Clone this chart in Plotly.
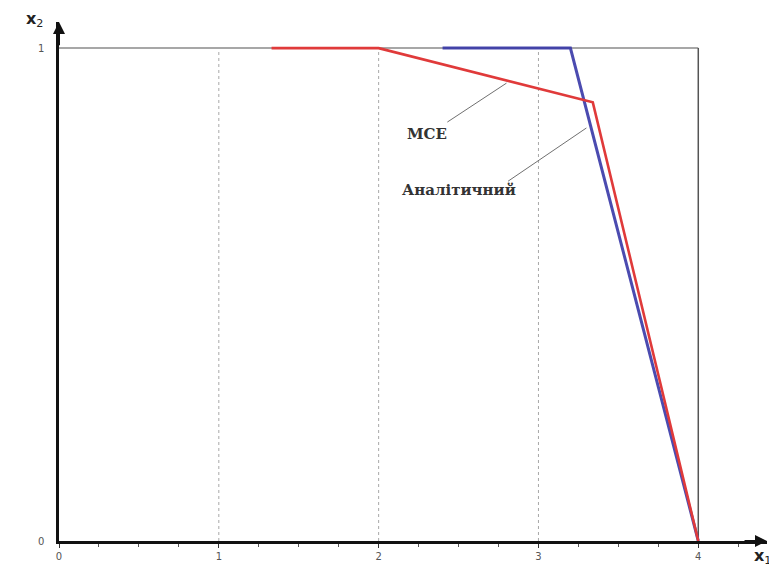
import plotly.graph_objects as go

# Data
red_x = [1.33, 2.0, 3.34, 4.0]
red_y = [1.0, 1.0, 0.89, 0.0]
blue_x = [2.4, 3.2, 4.0]
blue_y = [1.0, 1.0, 0.0]
x_ticks = [0, 1, 2, 3, 4]
x_tick_labels = ["0", "1", "2", "3", "4"]
y_ticks = [0, 1]
y_tick_labels = ["0", "1"]
grid_x = [1, 2, 3]
label_mce = "MCE"
label_an = "Аналітичний"

X_MAX = 4.43
Y_MAX = 1.053

fig = go.Figure()

# frame: top and right border of the unit area
fig.add_shape(type="line", x0=0, y0=1, x1=4, y1=1, line=dict(color="#8a8a8a", width=1.5), layer="below")
fig.add_shape(type="line", x0=4, y0=0, x1=4, y1=1, line=dict(color="#555555", width=1.5), layer="below")
for gx in grid_x:
    fig.add_shape(type="line", x0=gx, y0=0, x1=gx, y1=1,
                  line=dict(color="#a8a8a8", width=1, dash="dot"), layer="below")

fig.add_trace(go.Scatter(x=blue_x, y=blue_y, mode="lines",
                         line=dict(color="#3838a8", width=3), opacity=0.9, showlegend=False))
fig.add_trace(go.Scatter(x=red_x, y=red_y, mode="lines",
                         line=dict(color="#e03a3a", width=2.6), showlegend=False))

# leader lines
fig.add_shape(type="line", x0=2.43, y0=0.850, x1=2.80, y1=0.929, line=dict(color="#707070", width=1))
fig.add_shape(type="line", x0=2.81, y0=0.730, x1=3.30, y1=0.838, line=dict(color="#707070", width=1))

tfont = dict(family="DejaVu Serif", size=15, color="#333333", weight="bold")
fig.add_annotation(x=2.30, y=0.826, text=label_mce, showarrow=False, font=tfont)
fig.add_annotation(x=2.50, y=0.712, text=label_an, showarrow=False, font=tfont)

# axis arrows
fig.add_annotation(x=X_MAX, y=0, ax=X_MAX - 0.15, ay=0, axref="x", ayref="y", xref="x", yref="y",
                   text="", showarrow=True, arrowhead=2, arrowsize=1.2, arrowwidth=2, arrowcolor="#111111")
fig.add_annotation(x=0, y=Y_MAX, ax=0, ay=Y_MAX - 0.05, axref="x", ayref="y", xref="x", yref="y",
                   text="", showarrow=True, arrowhead=2, arrowsize=1.2, arrowwidth=2, arrowcolor="#111111")

# axis names
afont = dict(family="DejaVu Sans", size=16, color="#222222")
fig.add_annotation(xref="paper", yref="paper", x=-0.034, y=1.004, xanchor="center", yanchor="middle",
                   text="<b>x</b><sub>2</sub>", showarrow=False, font=afont)
fig.add_annotation(xref="paper", yref="paper", x=0.994, y=-0.03, xanchor="center", yanchor="middle",
                   text="<b>x</b><sub>1</sub>", showarrow=False, font=afont)

fig.update_layout(
    width=769, height=564,
    margin=dict(l=51, r=10, t=14, b=31),
    paper_bgcolor="white", plot_bgcolor="white",
    xaxis=dict(range=[0, X_MAX], showgrid=False, zeroline=False,
               showline=True, linecolor="#111111", linewidth=2.5,
               tickvals=x_ticks, ticktext=x_tick_labels, ticks="outside", ticklen=4,
               tickcolor="#333333", tickfont=dict(family="DejaVu Sans", size=10, color="#555555"),
               minor=dict(dtick=0.25, ticks="outside", ticklen=3, tickcolor="#555555"),
               fixedrange=True),
    yaxis=dict(range=[0, Y_MAX], showgrid=False, zeroline=False,
               showline=True, linecolor="#111111", linewidth=2.5,
               tickvals=y_ticks, ticktext=y_tick_labels, ticks="",
               ticklabelstandoff=10,
               tickfont=dict(family="DejaVu Sans", size=10, color="#555555"),
               fixedrange=True),
)

fig.write_html("out.html")
